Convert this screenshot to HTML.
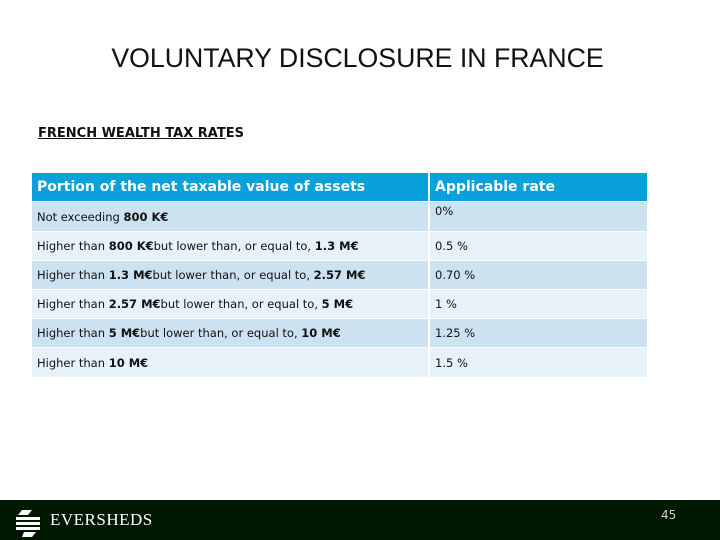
<!DOCTYPE html>
<html><head><meta charset="utf-8"><style>
body{margin:0;width:720px;height:540px;position:relative;background:#fff;font-family:"DejaVu Sans","Liberation Sans",sans-serif;overflow:hidden}
.title{position:absolute;left:0;width:715px;top:43px;text-align:center;font-family:"Liberation Sans",sans-serif;font-size:26.7px;color:#111}
.sub{position:absolute;left:38px;top:126px;font-size:13px;font-weight:bold;color:#111}
.sub u{text-decoration:underline}
table{position:absolute;left:32px;top:173px;border-collapse:collapse;width:617px}
td{height:28px;padding:0 5px;font-size:11.5px;color:#111;border-bottom:1px solid #fff;border-right:2px solid #fff}
tr.h td{background:#0aa0dc;color:#fff;font-weight:bold;font-size:14px;height:28px}
tr.a td{background:#cde2f1}
tr.b td{background:#e6f1f9}
td.c1{width:386px}
.up{position:relative;top:-6px}
.foot{position:absolute;left:0;top:500px;width:720px;height:40px;background:#001800}
.logo{position:absolute;left:36px;top:10px;font-family:"Liberation Serif",serif;font-size:17px;color:#fff;letter-spacing:0.5px}
.num{position:absolute;left:661px;top:8px;font-size:12px;color:#ccc}
</style></head><body>
<div class="title">VOLUNTARY DISCLOSURE IN FRANCE</div>
<div class="sub"><u>FRENCH WEALTH TAX RAT</u>ES</div>
<table>
<tr class="h"><td class="c1">Portion of the net taxable value of assets</td><td>Applicable rate</td></tr>
<tr class="a"><td style="height:29px">Not exceeding <b>800 K€</b></td><td><span class="up">0%</span></td></tr>
<tr class="b"><td>Higher than <b>800 K€</b>but lower than, or equal to, <b>1.3 M€</b></td><td>0.5 %</td></tr>
<tr class="a"><td>Higher than <b>1.3 M€</b>but lower than, or equal to, <b>2.57 M€</b></td><td>0.70 %</td></tr>
<tr class="b"><td>Higher than <b>2.57 M€</b>but lower than, or equal to, <b>5 M€</b></td><td>1 %</td></tr>
<tr class="a"><td>Higher than <b>5 M€</b>but lower than, or equal to, <b>10 M€</b></td><td>1.25 %</td></tr>
<tr class="b"><td style="height:29px">Higher than <b>10 M€</b></td><td>1.5 %</td></tr>
</table>
<div class="foot">
<svg style="position:absolute;left:14px;top:9px" width="30" height="28">
<path d="M8 1h10l-4 5H4zM2 8h24v3H2zM2 13h24v3H2zM2 18h24v3H2zM10 23h12l-4 5H8z" fill="#fff"/></svg>
<div class="logo" style="left:50px">EVERSHEDS</div>
<div class="num">45</div>
</div>
</body></html>
